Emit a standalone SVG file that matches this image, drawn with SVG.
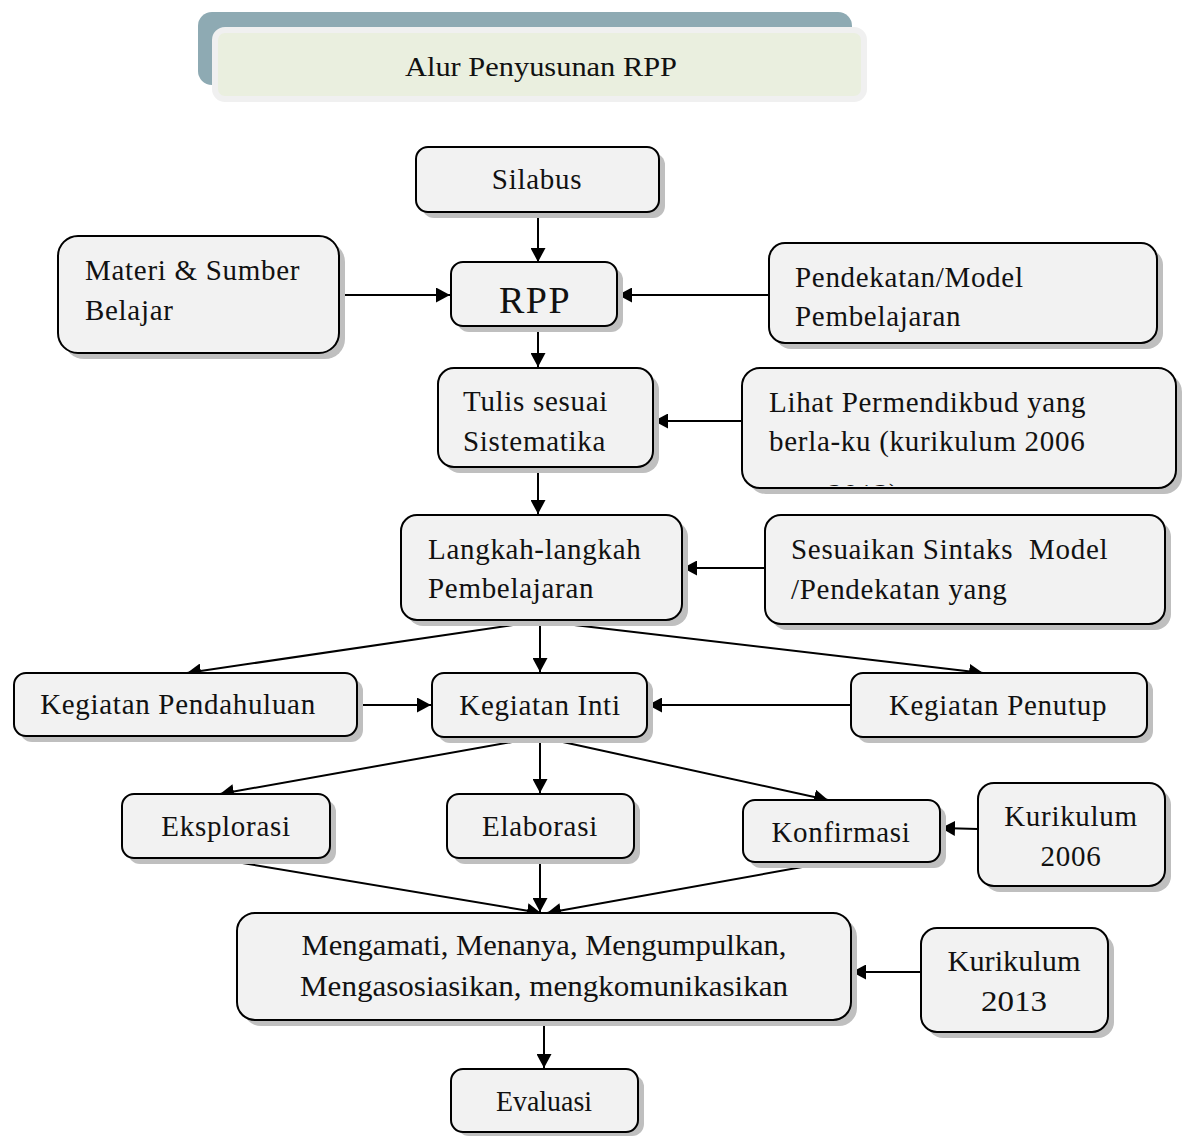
<svg xmlns="http://www.w3.org/2000/svg" width="1183" height="1136" viewBox="0 0 1183 1136">
<defs>
<style>
.box{fill:#f2f2f2;stroke:#000;stroke-width:2}
.sh{fill:#bfbfbf}
.t{font-family:"Liberation Serif","DejaVu Serif",serif;font-size:29px;letter-spacing:0.7px;fill:#111}
.c{text-anchor:middle}
.ln{stroke:#000;stroke-width:2;fill:none;marker-end:url(#ah)}
</style>
<marker id="ah" markerUnits="userSpaceOnUse" markerWidth="15" markerHeight="15" refX="14" refY="7.5" orient="auto">
<path d="M0,0 L14,7.5 L0,15 z" fill="#000"/>
</marker>
<clipPath id="clipLihat"><rect x="742" y="368" width="434" height="118"/></clipPath>
</defs>
<rect width="1183" height="1136" fill="#fff"/>

<g id="header">
<rect x="198" y="12" width="654" height="73" rx="14" fill="#8eaab3"/>
<rect x="215" y="30" width="649" height="69" rx="10" fill="#eaefdf" stroke="#f0f0f0" stroke-width="6"/>
<text class="t c" x="541" y="76" style="font-size:27px;letter-spacing:0" textLength="272" lengthAdjust="spacingAndGlyphs">Alur Penyusunan RPP</text>
</g>

<g id="connectors">
<line class="ln" x1="538" y1="212" x2="538" y2="262"/>
<line class="ln" x1="339" y1="295" x2="450" y2="295"/>
<line class="ln" x1="769" y1="295" x2="618" y2="295"/>
<line class="ln" x1="538" y1="326" x2="538" y2="367"/>
<line class="ln" x1="742" y1="421" x2="654" y2="421"/>
<line class="ln" x1="538" y1="467" x2="538" y2="514"/>
<line class="ln" x1="765" y1="568" x2="683" y2="568"/>
<line class="ln" x1="540" y1="621" x2="187" y2="673"/>
<line class="ln" x1="540" y1="621" x2="540" y2="672"/>
<line class="ln" x1="540" y1="621" x2="983" y2="673"/>
<line class="ln" x1="357" y1="705" x2="431" y2="705"/>
<line class="ln" x1="851" y1="705" x2="648" y2="705"/>
<line class="ln" x1="540" y1="737" x2="220" y2="794"/>
<line class="ln" x1="540" y1="737" x2="540" y2="793"/>
<line class="ln" x1="540" y1="737" x2="828" y2="800"/>
<line class="ln" x1="978" y1="829" x2="941" y2="828"/>
<line class="ln" x1="212" y1="858" x2="541" y2="913"/>
<line class="ln" x1="540" y1="858" x2="540" y2="912"/>
<line class="ln" x1="830" y1="862" x2="547" y2="913"/>
<line class="ln" x1="921" y1="972" x2="852" y2="972"/>
<line class="ln" x1="544" y1="1020" x2="544" y2="1068"/>
</g>

<g id="silabus">
<rect class="sh" x="422" y="153" width="243" height="65" rx="12"/>
<rect class="box" x="416" y="147" width="243" height="65" rx="12"/>
<text class="t c" x="537" y="189">Silabus</text>
</g>

<g id="rpp">
<rect class="sh" x="457" y="268" width="166" height="64" rx="12"/>
<rect class="box" x="451" y="262" width="166" height="64" rx="12"/>
<text class="t c" x="535" y="313" style="font-size:38px;letter-spacing:1.5px">RPP</text>
</g>

<g id="materi">
<rect class="sh" x="64" y="242" width="281" height="117" rx="20"/>
<rect class="box" x="58" y="236" width="281" height="117" rx="20"/>
<text class="t" x="85" y="280">Materi &amp; Sumber</text>
<text class="t" x="85" y="320">Belajar</text>
</g>

<g id="pendekatan">
<rect class="sh" x="775" y="249" width="388" height="100" rx="16"/>
<rect class="box" x="769" y="243" width="388" height="100" rx="16"/>
<text class="t" x="795" y="287">Pendekatan/Model</text>
<text class="t" x="795" y="326">Pembelajaran</text>
</g>

<g id="tulis">
<rect class="sh" x="444" y="374" width="215" height="99" rx="16"/>
<rect class="box" x="438" y="368" width="215" height="99" rx="16"/>
<text class="t" x="463" y="411">Tulis sesuai</text>
<text class="t" x="463" y="451">Sistematika</text>
</g>

<g id="lihat">
<rect class="sh" x="748" y="374" width="434" height="120" rx="18"/>
<rect class="box" x="742" y="368" width="434" height="120" rx="18"/>
<text class="t" x="769" y="412">Lihat Permendikbud yang</text>
<text class="t" x="769" y="451">berla-ku (kurikulum 2006</text>
<text class="t" x="769" y="504" clip-path="url(#clipLihat)">atau 2013)</text>
</g>

<g id="langkah">
<rect class="sh" x="407" y="521" width="281" height="105" rx="16"/>
<rect class="box" x="401" y="515" width="281" height="105" rx="16"/>
<text class="t" x="428" y="559">Langkah-langkah</text>
<text class="t" x="428" y="598">Pembelajaran</text>
</g>

<g id="sesuaikan">
<rect class="sh" x="771" y="521" width="400" height="109" rx="16"/>
<rect class="box" x="765" y="515" width="400" height="109" rx="16"/>
<text class="t" x="791" y="559" xml:space="preserve">Sesuaikan Sintaks  Model</text>
<text class="t" x="791" y="599">/Pendekatan yang</text>
</g>

<g id="pendahuluan">
<rect class="sh" x="20" y="679" width="343" height="63" rx="12"/>
<rect class="box" x="14" y="673" width="343" height="63" rx="12"/>
<text class="t c" x="178" y="714">Kegiatan Pendahuluan</text>
</g>

<g id="inti">
<rect class="sh" x="438" y="679" width="215" height="64" rx="12"/>
<rect class="box" x="432" y="673" width="215" height="64" rx="12"/>
<text class="t c" x="540" y="715">Kegiatan Inti</text>
</g>

<g id="penutup">
<rect class="sh" x="857" y="679" width="296" height="64" rx="12"/>
<rect class="box" x="851" y="673" width="296" height="64" rx="12"/>
<text class="t c" x="998" y="715">Kegiatan Penutup</text>
</g>

<g id="eksplorasi">
<rect class="sh" x="128" y="800" width="208" height="64" rx="12"/>
<rect class="box" x="122" y="794" width="208" height="64" rx="12"/>
<text class="t c" x="226" y="836">Eksplorasi</text>
</g>

<g id="elaborasi">
<rect class="sh" x="453" y="800" width="187" height="64" rx="12"/>
<rect class="box" x="447" y="794" width="187" height="64" rx="12"/>
<text class="t c" x="540" y="836">Elaborasi</text>
</g>

<g id="konfirmasi">
<rect class="sh" x="749" y="806" width="197" height="62" rx="12"/>
<rect class="box" x="743" y="800" width="197" height="62" rx="12"/>
<text class="t c" x="841" y="842">Konfirmasi</text>
</g>

<g id="kurikulum2006">
<rect class="sh" x="984" y="789" width="187" height="103" rx="16"/>
<rect class="box" x="978" y="783" width="187" height="103" rx="16"/>
<text class="t c" x="1071" y="826">Kurikulum</text>
<text class="t c" x="1071" y="866">2006</text>
</g>

<g id="mengamati">
<rect class="sh" x="243" y="919" width="614" height="107" rx="18"/>
<rect class="box" x="237" y="913" width="614" height="107" rx="18"/>
<text class="t c" x="544" y="955" style="letter-spacing:0" textLength="485" lengthAdjust="spacingAndGlyphs">Mengamati, Menanya, Mengumpulkan,</text>
<text class="t c" x="544" y="996" style="letter-spacing:0" textLength="488" lengthAdjust="spacingAndGlyphs">Mengasosiasikan, mengkomunikasikan</text>
</g>

<g id="kurikulum2013">
<rect class="sh" x="927" y="934" width="187" height="104" rx="16"/>
<rect class="box" x="921" y="928" width="187" height="104" rx="16"/>
<text class="t c" x="1014" y="971" style="letter-spacing:0" textLength="133" lengthAdjust="spacingAndGlyphs">Kurikulum</text>
<text class="t c" x="1014" y="1011" style="letter-spacing:0" textLength="66" lengthAdjust="spacingAndGlyphs">2013</text>
</g>

<g id="evaluasi">
<rect class="sh" x="457" y="1075" width="187" height="61" rx="12"/>
<rect class="box" x="451" y="1069" width="187" height="63" rx="12"/>
<text class="t c" x="544" y="1111" style="letter-spacing:0" textLength="96" lengthAdjust="spacingAndGlyphs">Evaluasi</text>
</g>
</svg>
